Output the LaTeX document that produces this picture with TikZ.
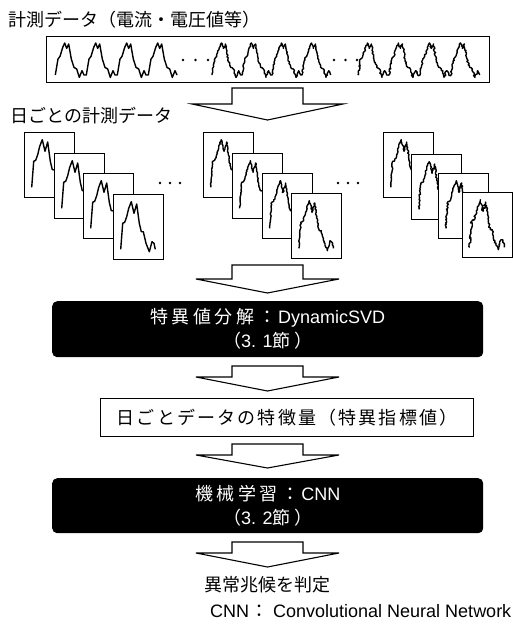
\documentclass[tikz,border=0pt]{standalone}
\usepackage{fontspec}
\setmainfont{Liberation Sans}
\newfontfamily\jp{Noto Sans CJK JP}
\newfontfamily\jpA[LetterSpace=20]{Noto Sans CJK JP}
\newfontfamily\jpB[LetterSpace=12]{Noto Sans CJK JP}
\usetikzlibrary{decorations.pathmorphing}

\tikzset{
  frame/.style={draw=black, line width=1.2pt, inner sep=0pt},
  card/.style={draw=black, line width=1.2pt, fill=white, inner sep=0pt,
    minimum width=50pt, minimum height=64.5pt, anchor=north west},
  wave/.style={line width=1.4pt, line join=round},
  noisy/.style={decorate, decoration={random steps, segment length=1.4pt, amplitude=#1}},
  blk/.style={fill=black, rounded corners=5pt, inner sep=0pt, text=white,
    align=center, anchor=north west, font=\fontsize{18}{24}\selectfont},
  harrow/.style={draw=black, line width=1.1pt, fill=white, line join=miter},
  lbl/.style={font=\fontsize{18}{22}\selectfont, inner sep=0pt},
}

% one cycle of the long waveform, starting at x=#1
\newcommand\cyc[1]{-- ({#1+0},75) -- ({#1+2.7},59) -- ({#1+4.7},56.4) -- ({#1+7.4},47.4)
  -- ({#1+9.4},43) -- ({#1+11.4},48.4) -- ({#1+13.4},44) -- ({#1+16},59) -- ({#1+18.7},67.4)
  -- ({#1+21.4},69) -- ({#1+24},77.4) -- ({#1+26.7},70.7) -- ({#1+28.7},75)}

% one daily card: name, x, y, style of curve
\newcommand\daycard[4]{%
  \node[card] (#1) at (#2,#3) {};
  \begin{scope}[shift={(#2,#3)}]
    \draw[wave,#4] (7.7,55.3) -- (9.7,29.3) -- (11.7,28.3) -- (13.7,22.7) -- (15.7,14.3)
      -- (18.3,7.7) -- (21,19.3) -- (23.7,10) -- (26.3,29.3) -- (28.3,37.7) -- (30.3,37.7)
      -- (33,49.3) -- (36.3,57.7) -- (39,47.7) -- (41,49.3) -- (42.3,55.3);
  \end{scope}}

% hollow block arrow: top, head line, tip, half stem, half head
\newcommand\harr[5]{%
  \draw[harrow] ({267.5-#4},#1) -- ({267.5+#4},#1) -- ({267.5+#4},#2) -- ({267.5+#5},#2)
    -- (267.5,#3) -- ({267.5-#5},#2) -- ({267.5-#4},#2) -- cycle;}

\begin{document}
\begin{tikzpicture}[x=1pt,y=-1pt]
\useasboundingbox (0,0) rectangle (513,624);
\pgfmathsetseed{7}

% title and long measurement strip
\node[lbl, anchor=west] (title) at (8,20) {\jp 計測データ（電流・電圧値等）};
\node[frame, minimum width=443pt, minimum height=46pt, anchor=north west] (strip) at (46,36) {};
\draw[wave] (55.3,75) \cyc{55.3}\cyc{86.3}\cyc{117.3}\cyc{148.3};
\draw[wave,noisy=0.6pt] (212,75) \cyc{212}\cyc{242}\cyc{272}\cyc{302};
\draw[wave,noisy=0.9pt] (358,75) \cyc{358}\cyc{389}\cyc{420}\cyc{451};
\foreach \x in {183,195.5,208} \fill (\x,60) circle (1.3pt);
\foreach \x in {334,345.5,357} \fill (\x,60) circle (1.3pt);

\harr{88}{104}{120}{35.5}{75.5}

% daily data
\node[lbl, anchor=west] (daily) at (10,116) {\jp 日ごとの計測データ};
\daycard{a1}{24}{132}{}
\daycard{a2}{54}{153}{}
\daycard{a3}{83}{173}{}
\daycard{a4}{113}{194}{}
\foreach \x in {160,170,180} \fill (\x,183) circle (1.3pt);
\daycard{b1}{203}{132}{noisy=0.5pt}
\daycard{b2}{232}{153}{noisy=0.5pt}
\daycard{b3}{262}{173}{noisy=0.6pt}
\daycard{b4}{291}{193}{noisy=0.7pt}
\foreach \x in {338,348,358} \fill (\x,183) circle (1.3pt);
\daycard{c1}{383}{132}{noisy=0.7pt}
\daycard{c2}{411}{154}{noisy=0.8pt}
\daycard{c3}{438}{173}{noisy=0.8pt}
\daycard{c4}{462}{192}{noisy=1.1pt}

\harr{265}{279}{293}{35.5}{71.5}

\node[blk, minimum width=431pt, minimum height=56pt] (svd) at (52,301)
  {{\jpA 特異値分解：}\hspace{2pt}DynamicSVD\\{\jpA （}3. 1{\jpA 節）}};

\harr{366}{377}{391}{35.5}{71.5}

\node[frame, minimum width=373pt, minimum height=38pt, anchor=north west,
  font=\fontsize{18}{22}\selectfont] (feat) at (100,398) {\jpB 日ごとデータの特徴量（特異指標値）};

\harr{444}{455}{468}{35.5}{71.5}

\node[blk, minimum width=431pt, minimum height=55pt] (cnn) at (52,478)
  {{\jpA 機械学習：}\hspace{2pt}CNN\\{\jpA （}3. 2{\jpA 節）}};

\harr{542}{553}{567}{35.5}{71.5}

\node[lbl] (judge) at (267,584.5) {\jp 異常兆候を判定};
\node[lbl, anchor=west] (note) at (210,611.5) {CNN\hspace{1pt}{\jp ：}\hspace{5pt}Convolutional Neural Network};
\end{tikzpicture}
\end{document}
